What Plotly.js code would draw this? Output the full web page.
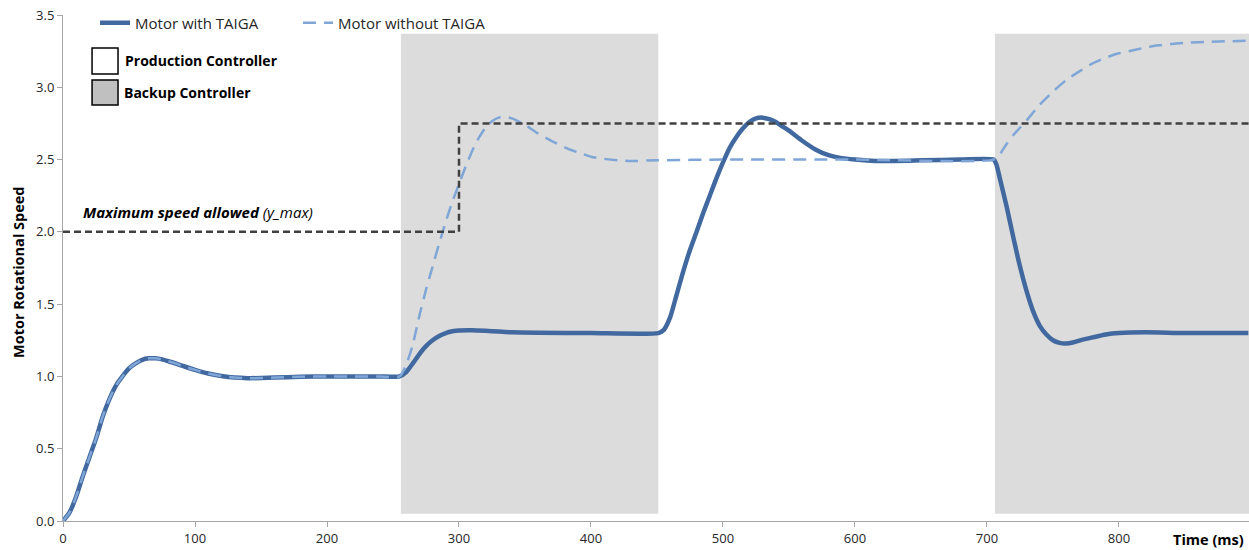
<!DOCTYPE html>
<html>
<head>
<meta charset="utf-8">
<script src="https://cdn.plot.ly/plotly-3.0.1.min.js"></script>
<style>
  html, body { margin: 0; padding: 0; background: #ffffff; }
  #chart { width: 1249px; height: 550px; }
</style>
</head>
<body>
<div id="chart"></div>
<script>
// Start-up response (identical for both motors until the first switch)
const startTime  = [0, 5, 10, 15, 20, 25, 30, 35, 40, 45, 50, 55, 60, 65, 70, 75, 80, 90, 100, 110, 120, 130, 140, 150, 160, 180, 200, 220, 240, 255];
const startSpeed = [0, 0.06, 0.17, 0.31, 0.44, 0.57, 0.72, 0.84, 0.935, 1.0, 1.055, 1.09, 1.115, 1.125, 1.125, 1.118, 1.105, 1.075, 1.045, 1.02, 1.003, 0.992, 0.988, 0.989, 0.992, 0.997, 1.0, 1.0, 1.0, 1.0];

// Motor with TAIGA after the first switch
const withTime  = [260, 265, 270, 275, 280, 285, 290, 295, 300, 310, 320, 330, 340, 360, 400, 451,
                   455, 460, 465, 470, 475, 480, 485, 490, 495, 500, 505, 510, 515, 520, 525, 530, 535, 540, 545, 550, 560, 570, 580, 590, 600, 615, 630, 650, 680, 705,
                   707, 710, 715, 720, 725, 730, 735, 740, 745, 750, 755, 760, 765, 770, 780, 790, 800, 820, 850, 898];
const withSpeed = [1.03, 1.09, 1.155, 1.21, 1.25, 1.28, 1.30, 1.312, 1.318, 1.32, 1.316, 1.31, 1.305, 1.302, 1.30, 1.30,
                   1.32, 1.41, 1.57, 1.73, 1.875, 2.00, 2.13, 2.25, 2.37, 2.48, 2.58, 2.655, 2.715, 2.76, 2.785, 2.79, 2.78, 2.76, 2.73, 2.70, 2.63, 2.57, 2.53, 2.51, 2.50, 2.49, 2.49, 2.495, 2.50, 2.50,
                   2.47, 2.36, 2.17, 1.96, 1.76, 1.59, 1.45, 1.35, 1.29, 1.25, 1.232, 1.228, 1.235, 1.248, 1.27, 1.29, 1.30, 1.305, 1.30, 1.30];

// Motor without TAIGA after the first switch
const withoutTime  = [260, 265, 270, 275, 280, 285, 290, 295, 300, 305, 310, 315, 320, 325, 330, 335, 340, 345, 350, 355, 360, 370, 380, 390, 400, 410, 420, 430, 450, 500, 600, 705,
                      710, 715, 720, 725, 730, 740, 750, 760, 770, 780, 790, 800, 810, 820, 830, 840, 850, 870, 898];
const withoutSpeed = [1.08, 1.22, 1.42, 1.60, 1.76, 1.92, 2.07, 2.21, 2.33, 2.45, 2.56, 2.65, 2.72, 2.765, 2.79, 2.795, 2.785, 2.765, 2.74, 2.71, 2.68, 2.63, 2.585, 2.55, 2.52, 2.505, 2.495, 2.49, 2.495, 2.50, 2.50, 2.50,
                      2.54, 2.61, 2.67, 2.72, 2.77, 2.88, 2.97, 3.05, 3.11, 3.165, 3.205, 3.235, 3.255, 3.275, 3.29, 3.30, 3.307, 3.315, 3.322];

// Maximum speed allowed (step at 300 ms)
const yMaxTime  = [0, 300, 300, 898.5];
const yMaxValue = [2.0, 2.0, 2.75, 2.75];

// Intervals where the backup controller is active
const backupStart = [256, 706];
const backupEnd   = [451, 898.5];
const backupLow   = 0.05;
const backupHigh  = 3.37;

const xTicks = [0, 100, 200, 300, 400, 500, 600, 700, 800];
const yTicks = [0, 0.5, 1.0, 1.5, 2.0, 2.5, 3.0, 3.5];

const FONT = "'Open Sans', Lato, 'Liberation Sans', sans-serif";
const DARK = '#41699f';
const LIGHT = '#7fa6d7';
const TEXT = '#262626';

const traces = [
  {
    name: 'Motor with TAIGA',
    x: startTime.concat(withTime),
    y: startSpeed.concat(withSpeed),
    mode: 'lines',
    line: { color: DARK, width: 4.5, shape: 'spline', smoothing: 0.6 },
    hoverinfo: 'skip'
  },
  {
    name: 'Motor without TAIGA',
    x: startTime.concat(withoutTime),
    y: startSpeed.concat(withoutSpeed),
    mode: 'lines',
    line: { color: LIGHT, width: 2.5, dash: '13px,8px', shape: 'spline', smoothing: 0.6 },
    hoverinfo: 'skip'
  },
  {
    name: 'y_max',
    x: yMaxTime,
    y: yMaxValue,
    mode: 'lines',
    line: { color: '#404040', width: 2.5, dash: '7px,4px' },
    showlegend: false,
    hoverinfo: 'skip'
  }
];

const shapes = backupStart.map((s, i) => ({
  type: 'rect', xref: 'x', yref: 'y', layer: 'below',
  x0: s, x1: backupEnd[i], y0: backupLow, y1: backupHigh,
  fillcolor: '#dcdcdc', line: { width: 0 }
}));

// Controller key boxes
shapes.push({
  type: 'rect', xref: 'paper', yref: 'paper',
  x0: 0.0245, x1: 0.0464, y0: 0.8834, y1: 0.9348,
  fillcolor: '#ffffff', line: { color: '#000000', width: 1.5 }
});
shapes.push({
  type: 'rect', xref: 'paper', yref: 'paper',
  x0: 0.0245, x1: 0.0464, y0: 0.8221, y1: 0.8715,
  fillcolor: '#c0c0c0', line: { color: '#000000', width: 1.5 }
});

const annotations = [
  { xref: 'paper', yref: 'paper', x: 0.0510, y: 0.9091, xanchor: 'left', yanchor: 'middle',
    text: '<b>Production Controller</b>', showarrow: false, font: { family: FONT, size: 14, color: '#000' } },
  { xref: 'paper', yref: 'paper', x: 0.0495, y: 0.8478, xanchor: 'left', yanchor: 'middle',
    text: '<b>Backup Controller</b>', showarrow: false, font: { family: FONT, size: 14, color: '#000' } },
  { xref: 'x', yref: 'y', x: 14, y: 2.137, xanchor: 'left', yanchor: 'middle',
    text: '<b><i>Maximum speed allowed</i></b> <i>(y_max)</i>', showarrow: false,
    font: { family: FONT, size: 15, color: '#000' } },
  { xref: 'paper', yref: 'paper', x: 0.9975, y: -0.037, xanchor: 'right', yanchor: 'middle',
    text: '<b>Time (ms)</b>', showarrow: false, font: { family: FONT, size: 14.5, color: '#000' } },
  { xref: 'paper', yref: 'paper', x: -0.038, y: 0.492, xanchor: 'center', yanchor: 'middle',
    text: '<b>Motor Rotational Speed</b>', textangle: -90, showarrow: false,
    font: { family: FONT, size: 14.5, color: '#000' } }
];

const layout = {
  width: 1249, height: 550,
  margin: { l: 63, r: 0, t: 15, b: 29 },
  paper_bgcolor: '#ffffff', plot_bgcolor: '#ffffff',
  font: { family: FONT, size: 13, color: TEXT },
  showlegend: true,
  legend: {
    orientation: 'h', x: 0.027, y: 0.984, xanchor: 'left', yanchor: 'middle',
    bgcolor: 'rgba(0,0,0,0)', font: { family: FONT, size: 15, color: TEXT },
    itemwidth: 30, entrywidth: 158, tracegroupgap: 0
  },
  xaxis: {
    range: [0, 898.5], tickvals: xTicks, ticktext: xTicks.map(String),
    showgrid: false, zeroline: false, showline: true, linecolor: '#a6a6a6', linewidth: 1,
    ticks: 'outside', ticklen: 5, tickcolor: '#a6a6a6', tickfont: { family: FONT, size: 13, color: TEXT },
    fixedrange: true
  },
  yaxis: {
    range: [0, 3.5], tickvals: yTicks, ticktext: yTicks.map(v => v.toFixed(1)),
    showgrid: false, zeroline: false, showline: true, linecolor: '#a6a6a6', linewidth: 1,
    ticks: 'outside', ticklen: 5, tickcolor: '#a6a6a6', tickfont: { family: FONT, size: 13, color: TEXT },
    fixedrange: true
  },
  shapes: shapes,
  annotations: annotations
};

Plotly.newPlot('chart', traces, layout, { displayModeBar: false, staticPlot: true });
</script>
</body>
</html>
